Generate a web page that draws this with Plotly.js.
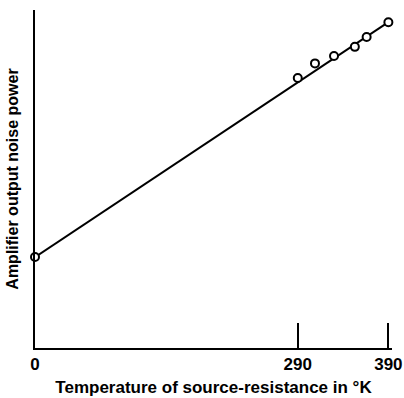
<!DOCTYPE html>
<html>
<head>
<meta charset="utf-8">
<script src="https://cdn.plot.ly/plotly-3.0.1.min.js"></script>
<style>html,body{margin:0;padding:0;background:#fff;}#chart{width:404px;height:398px;}</style>
</head>
<body>
<div id="chart"></div>
<script>
// Measured points: temperature of source resistance (°K) vs output noise power (arbitrary units)
const temperatures = [0, 290, 309, 330, 353, 366, 390];
const noisePower = [26.9, 79.9, 84.2, 86.4, 89.1, 92.0, 96.4];
// Straight fitted line
const fitTemps = [0, 390];
const fitPower = [26.9, 96.4];
// Tick labels
const tickValues = [0, 290, 390];
const tickLabels = ["0", "290", "390"];

const fontFam = "'Liberation Sans', Arial, sans-serif";

const traces = [
  {x: fitTemps, y: fitPower, mode: 'lines', line: {color: '#000', width: 2}, hoverinfo: 'skip', showlegend: false},
  {x: temperatures, y: noisePower, mode: 'markers', showlegend: false,
   marker: {symbol: 'circle', size: 8, color: '#fff', line: {color: '#000', width: 2}}, cliponaxis: false}
];

const layout = {
  width: 404, height: 398,
  margin: {l: 35, r: 12, t: 10, b: 50},
  paper_bgcolor: '#fff', plot_bgcolor: '#fff',
  showlegend: false,
  font: {family: fontFam, color: '#000'},
  xaxis: {
    range: [0, 394], showgrid: false, zeroline: false,
    showline: true, linecolor: '#000', linewidth: 2,
    ticks: 'inside', ticklen: 25, tickwidth: 2, tickcolor: '#000',
    tickvals: tickValues, ticktext: tickLabels,
    ticklabeloverflow: 'allow',
    tickfont: {family: fontFam, size: 17, color: '#000', weight: 'bold'},
    title: {text: 'Temperature of source-resistance in °K', standoff: 8,
            font: {family: fontFam, size: 17, color: '#000', weight: 'bold'}}
  },
  yaxis: {
    range: [0, 100], showgrid: false, zeroline: false,
    showline: true, linecolor: '#000', linewidth: 2,
    ticks: '', showticklabels: false,
    title: {text: 'Amplifier output noise power', standoff: 10,
            font: {family: fontFam, size: 16, color: '#000', weight: 'bold'}}
  }
};

Plotly.newPlot('chart', traces, layout, {displayModeBar: false, staticPlot: true});
</script>
</body>
</html>
